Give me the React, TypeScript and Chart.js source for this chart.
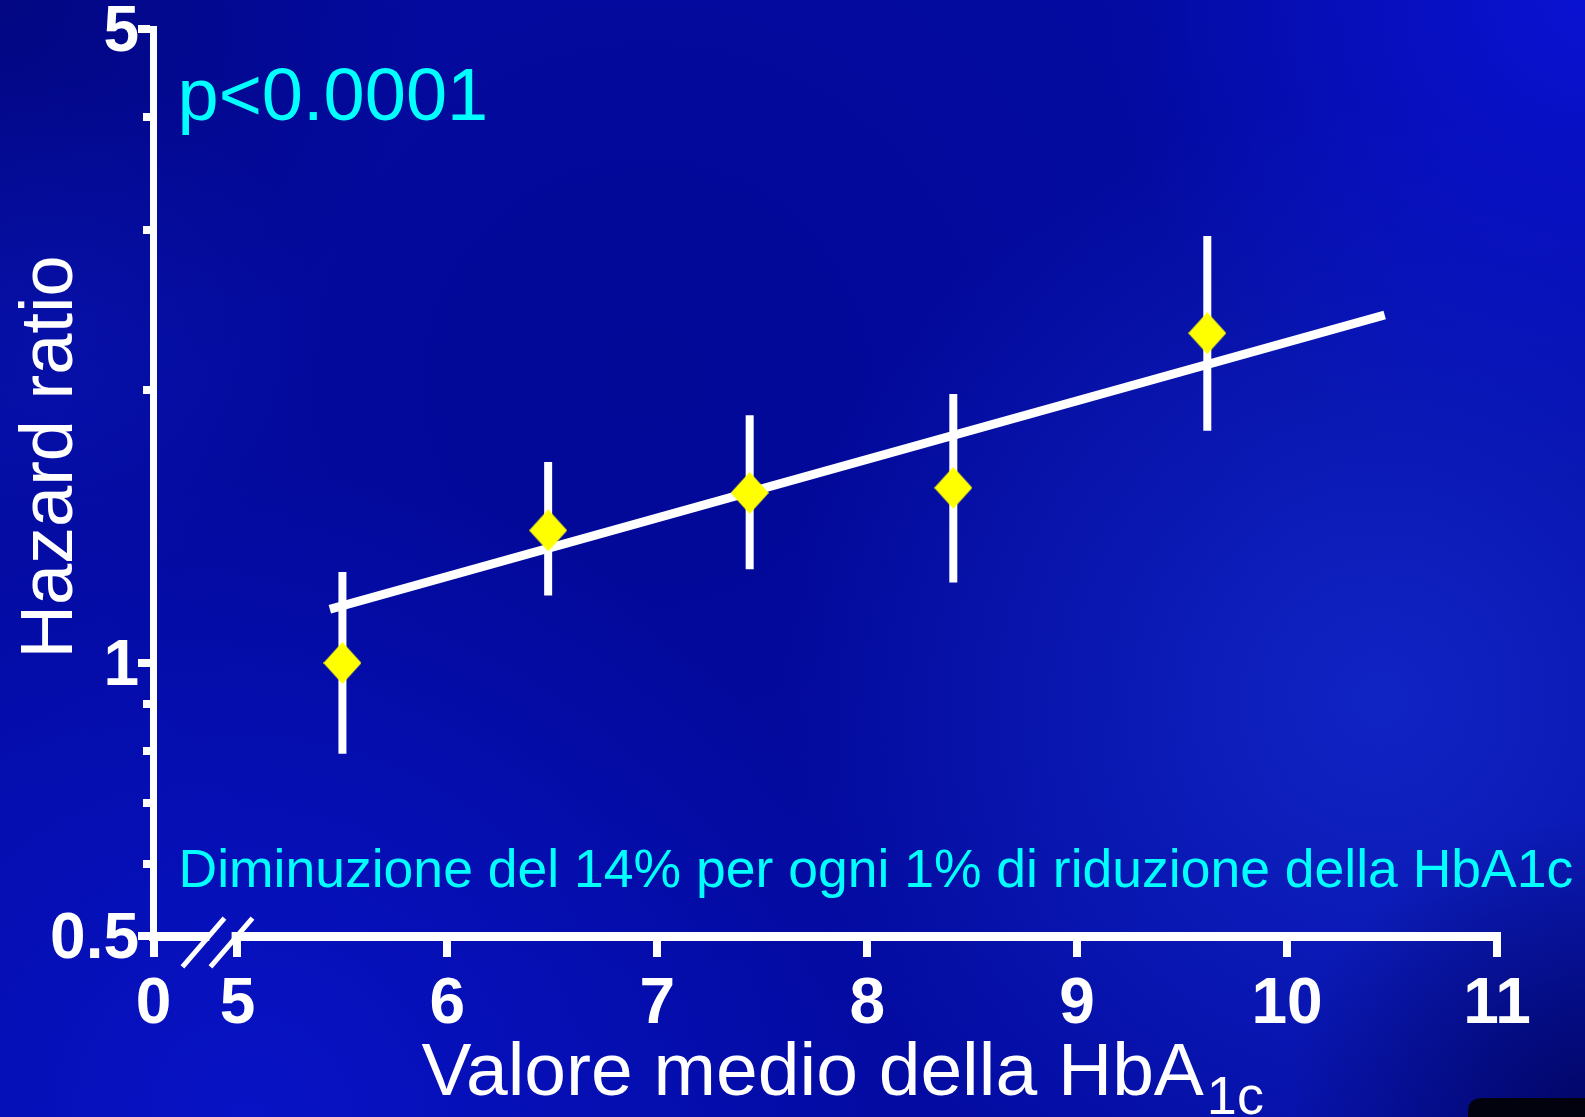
import React, { useEffect, useRef } from 'react';
import { Chart, registerables } from 'chart.js';

Chart.register(...registerables);

// ---- Data ----
const hba1c = [5.5, 6.48, 7.44, 8.41, 9.62];
const hazardRatio = [1.0, 1.40, 1.54, 1.56, 2.31];
const ciLow = [0.794, 1.187, 1.269, 1.227, 1.803];
const ciHigh = [1.26, 1.666, 1.875, 1.98, 2.957];
const fitX = [5.44, 10.465];
const fitY = [1.146, 2.419];

const xTickValues = [4.6, 5, 6, 7, 8, 9, 10, 11];
const xTickLabels = ['0', '5', '6', '7', '8', '9', '10', '11'];
const yTickValues = [0.5, 0.6, 0.7, 0.8, 0.9, 1, 2, 3, 4, 5];
const yMajorTicks = [0.5, 1, 5];
const yMajorLabels = ['0.5', '1', '5'];

const pText = 'p<0.0001';
const noteText = 'Diminuzione del 14% per ogni 1% di riduzione della HbA1c';
const xTitle = 'Valore medio della HbA';
const xTitleSub = '1c';
const yTitle = 'Hazard ratio';

const W = 1585;
const H = 1117;
const FONT = '"Liberation Sans", Arial, Helvetica, sans-serif';
const CYAN = '#00ffff';
const WHITE = '#ffffff';

function makeDiamond(w: number, h: number, color: string) {
  const c = document.createElement('canvas');
  c.width = w;
  c.height = h;
  const g = c.getContext('2d')!;
  g.fillStyle = color;
  g.beginPath();
  g.moveTo(w / 2, 0);
  g.lineTo(w, h / 2);
  g.lineTo(w / 2, h);
  g.lineTo(0, h / 2);
  g.closePath();
  g.fill();
  return c;
}

function radial(ctx: CanvasRenderingContext2D, w: number, h: number, x: number, y: number, r: number, rgb: string, a: number) {
  const g = ctx.createRadialGradient(x, y, 0, x, y, r);
  g.addColorStop(0, `rgba(${rgb},${a})`);
  g.addColorStop(1, `rgba(${rgb},0)`);
  ctx.fillStyle = g;
  ctx.fillRect(0, 0, w, h);
}

function paintBackground(ctx: CanvasRenderingContext2D, w: number, h: number) {
  ctx.fillStyle = '#030ba2';
  ctx.fillRect(0, 0, w, h);
  radial(ctx, w, h, 650, 380, 760, '0,4,125', 0.3);
  radial(ctx, w, h, 0, 0, 420, '2,4,110', 0.6);
  radial(ctx, w, h, 60, 330, 260, '14,28,190', 0.35);
  radial(ctx, w, h, 1380, 700, 600, '30,62,230', 0.5);
  radial(ctx, w, h, 1585, 0, 480, '12,20,222', 0.8);
  radial(ctx, w, h, 250, 1117, 650, '10,22,212', 0.7);
  radial(ctx, w, h, 1585, 1117, 300, '0,2,80', 0.75);
}

const decorPlugin = {
  id: 'decor',
  beforeDraw(chart: any) {
    const ctx = chart.ctx as CanvasRenderingContext2D;
    ctx.save();
    paintBackground(ctx, chart.width, chart.height);
    // dark rounded shape in the lower-right corner
    ctx.fillStyle = '#02020e';
    ctx.beginPath();
    const x0 = 1468, y0 = 1098, rr = 14;
    ctx.moveTo(x0, chart.height);
    ctx.lineTo(x0, y0 + rr);
    ctx.quadraticCurveTo(x0, y0, x0 + rr, y0);
    ctx.lineTo(chart.width, y0);
    ctx.lineTo(chart.width, chart.height);
    ctx.closePath();
    ctx.fill();
    ctx.restore();
  },
  afterDraw(chart: any) {
    const ctx = chart.ctx as CanvasRenderingContext2D;
    const a = chart.chartArea;
    const xs = chart.scales.x;
    ctx.save();

    // axis break: clear gap between slashes, then draw the slashes
    const x5 = xs.getPixelForValue(5);
    const yAxis = a.bottom;
    ctx.save();
    ctx.beginPath();
    ctx.rect(x5 - 28, yAxis - 6, 22, 12);
    ctx.clip();
    paintBackground(ctx, chart.width, chart.height);
    ctx.restore();
    ctx.strokeStyle = WHITE;
    ctx.lineWidth = 5;
    ctx.lineCap = 'butt';
    for (const off of [-34, -6]) {
      const cx = x5 + off;
      const cy = yAxis + 6.5;
      ctx.beginPath();
      ctx.moveTo(cx - 21, cy + 24.3);
      ctx.lineTo(cx + 21, cy - 24.3);
      ctx.stroke();
    }

    // p value
    ctx.fillStyle = CYAN;
    ctx.textAlign = 'left';
    ctx.textBaseline = 'alphabetic';
    ctx.font = `74px ${FONT}`;
    ctx.fillText(pText, a.left + 24, a.top + 91);

    // note
    ctx.font = `53.5px ${FONT}`;
    ctx.fillText(noteText, a.left + 25, a.bottom - 49);

    // x title with subscript
    ctx.fillStyle = WHITE;
    ctx.font = `75px ${FONT}`;
    const tx = a.left + 268;
    ctx.fillText(xTitle, tx, a.bottom + 159);
    const tw = ctx.measureText(xTitle).width;
    ctx.font = `54px ${FONT}`;
    ctx.fillText(xTitleSub, tx + tw + 3, a.bottom + 178);

    // y title
    ctx.font = `74px ${FONT}`;
    ctx.textAlign = 'center';
    ctx.translate(72, (a.top + a.bottom) / 2 - 25.5);
    ctx.rotate(-Math.PI / 2);
    ctx.fillText(yTitle, 0, 0);

    ctx.restore();
  },
};

export default function App() {
  const ref = useRef<HTMLCanvasElement | null>(null);

  useEffect(() => {
    const canvas = ref.current;
    if (!canvas) return;
    document.body.style.margin = '0';
    const diamond = makeDiamond(38, 42, '#ffff00');

    const errorSets = hba1c.map((x, i) => ({
      type: 'line' as const,
      label: `CI ${i + 1}`,
      data: [
        { x, y: ciLow[i] },
        { x, y: ciHigh[i] },
      ],
      borderColor: WHITE,
      borderWidth: 8,
      borderCapStyle: 'butt' as const,
      pointRadius: 0,
      fill: false,
      order: 3,
    }));

    const chart = new Chart(canvas, {
      type: 'line',
      data: {
        datasets: [
          {
            type: 'line',
            label: 'Hazard ratio',
            data: hba1c.map((x, i) => ({ x, y: hazardRatio[i] })),
            showLine: false,
            pointStyle: diamond as any,
            pointRadius: 20,
            pointHoverRadius: 20,
            backgroundColor: '#ffff00',
            borderColor: '#ffff00',
            order: 1,
          },
          {
            type: 'line',
            label: 'Regressione',
            data: fitX.map((x, i) => ({ x, y: fitY[i] })),
            borderColor: WHITE,
            borderWidth: 9,
            borderCapStyle: 'butt',
            pointRadius: 0,
            fill: false,
            order: 2,
          },
          ...errorSets,
        ] as any,
      },
      options: {
        responsive: false,
        animation: false,
        devicePixelRatio: 1,
        layout: { padding: { left: 0, top: 29, right: 88, bottom: 0 } },
        plugins: {
          legend: { display: false },
          tooltip: { enabled: false },
          title: { display: false },
        },
        events: [],
        scales: {
          x: {
            type: 'linear',
            min: 4.6,
            max: 11,
            afterBuildTicks: (s: any) => {
              s.ticks = xTickValues.map((v) => ({ value: v }));
            },
            afterFit: (s: any) => {
              s.height = H - 936;
            },
            ticks: {
              autoSkip: false,
              maxRotation: 0,
              minRotation: 0,
              color: WHITE,
              padding: 10,
              font: { family: FONT, size: 64, weight: 'bold', lineHeight: 1.2 },
              callback: (v: any) => {
                const idx = xTickValues.indexOf(Number(v));
                return idx >= 0 ? xTickLabels[idx] : '';
              },
            },
            grid: {
              drawOnChartArea: false,
              drawTicks: true,
              tickLength: 21,
              tickWidth: 8,
              lineWidth: 8,
              color: WHITE,
              tickColor: WHITE,
            },
            border: { display: true, width: 9, color: WHITE },
          },
          y: {
            type: 'logarithmic',
            min: 0.5,
            max: 5,
            afterBuildTicks: (s: any) => {
              s.ticks = yTickValues.map((v) => ({ value: v, major: yMajorTicks.includes(v) }));
            },
            afterFit: (s: any) => {
              s.width = 153.5;
            },
            ticks: {
              autoSkip: false,
              color: WHITE,
              padding: -1,
              labelOffset: 4,
              font: { family: FONT, size: 64, weight: 'bold', lineHeight: 0.8 },
              callback: (v: any) => {
                const idx = yMajorTicks.indexOf(Number(v));
                return idx >= 0 ? yMajorLabels[idx] : '';
              },
            },
            grid: {
              drawOnChartArea: false,
              drawTicks: true,
              tickLength: 15.5,
              tickWidth: 8,
              lineWidth: 8,
              color: WHITE,
              tickColor: WHITE,
              tickBorderDash: (ctx: any) =>
                ctx.tick && yMajorTicks.includes(ctx.tick.value) ? [] : [0, 5, 100],
            },
            border: { display: true, width: 7, color: WHITE },
          },
        },
      },
      plugins: [decorPlugin],
    } as any);

    return () => {
      chart.destroy();
    };
  }, []);

  return (
    <div style={{ position: 'absolute', left: 0, top: 0, width: W, height: H }}>
      <canvas ref={ref} width={W} height={H} style={{ display: 'block', width: W, height: H }} />
    </div>
  );
}
